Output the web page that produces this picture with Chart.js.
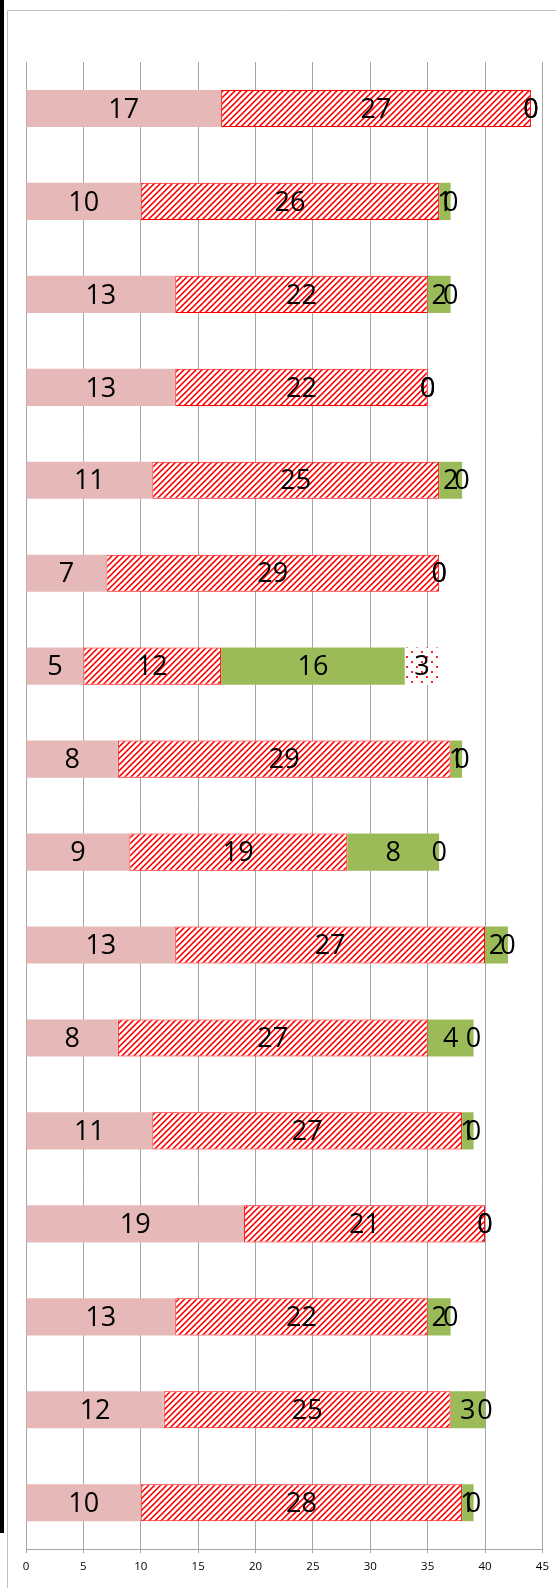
<!DOCTYPE html>
<html>
<head>
<meta charset="utf-8">
<title>Stacked bars</title>
<style>
  html, body { margin: 0; padding: 0; background: #fff; }
  #wrap { width: 556px; height: 1588px; }
</style>
<script src="https://cdn.jsdelivr.net/npm/chart.js@4.4.0/dist/chart.umd.min.js"></script>
</head>
<body>
<div id="wrap"><canvas id="chart" width="556" height="1588"></canvas></div>
<script>
// Chart data
const categories = ['1', '2', '3', '4', '5', '6', '7', '8', '9', '10', '11', '12', '13', '14', '15', '16'];
const pinkValues   = [17, 10, 13, 13, 11, 7, 5, 8, 9, 13, 8, 11, 19, 13, 12, 10];
const hatchValues  = [27, 26, 22, 22, 25, 29, 12, 29, 19, 27, 27, 27, 21, 22, 25, 28];
const greenValues  = [0, 1, 2, 0, 2, 0, 16, 1, 8, 2, 4, 1, 0, 2, 3, 1];
const dottedValues = [0, 0, 0, 0, 0, 0, 3, 0, 0, 0, 0, 0, 0, 0, 0, 0];
const xTickValues  = [0, 5, 10, 15, 20, 25, 30, 35, 40, 45];

// Fill patterns
function makeHatch() {
  const n = 6;
  const c = document.createElement('canvas');
  c.width = n; c.height = n;
  const g = c.getContext('2d');
  g.fillStyle = '#ffffff';
  g.fillRect(0, 0, n, n);
  const shades = ['#ff3a3a', '#ff0000', '#ff9090'];
  for (let x = 0; x < n; x++) {
    for (let y = 0; y < n; y++) {
      const k = (x + y) % n;
      if (k < shades.length) {
        g.fillStyle = shades[k];
        g.fillRect(x, y, 1, 1);
      }
    }
  }
  return g.createPattern(c, 'repeat');
}

function makeDots() {
  const c = document.createElement('canvas');
  c.width = 10; c.height = 10;
  const g = c.getContext('2d');
  g.fillStyle = '#ffffff';
  g.fillRect(0, 0, 10, 10);
  g.fillStyle = '#ff2020';
  g.fillRect(1, 1, 2, 2);
  g.fillRect(6, 6, 2, 2);
  return g.createPattern(c, 'repeat');
}

// Background, left strip and frame
const framePlugin = {
  id: 'frame',
  beforeDraw(chart) {
    const ctx = chart.ctx;
    ctx.save();
    ctx.fillStyle = '#ffffff';
    ctx.fillRect(0, 0, chart.width, chart.height);
    ctx.fillStyle = '#000000';
    ctx.fillRect(0, 0, 4, 1533);
    ctx.strokeStyle = '#bfbfbf';
    ctx.lineWidth = 1;
    ctx.beginPath();
    ctx.moveTo(7.5, chart.height);
    ctx.lineTo(7.5, 10.5);
    ctx.lineTo(chart.width, 10.5);
    ctx.stroke();
    ctx.restore();
  }
};

// Value labels centred in each segment
const labelPlugin = {
  id: 'segmentLabels',
  afterDatasetsDraw(chart) {
    const ctx = chart.ctx;
    ctx.save();
    ctx.font = '27px "Open Sans"';
    ctx.fillStyle = '#000000';
    ctx.textAlign = 'center';
    ctx.textBaseline = 'middle';
    chart.data.datasets.forEach((ds, di) => {
      const meta = chart.getDatasetMeta(di);
      meta.data.forEach((bar, i) => {
        const p = bar.getProps(['x', 'y', 'base'], true);
        ctx.fillText(String(ds.data[i]), (p.x + p.base) / 2, p.y + 1.5);
      });
    });
    ctx.restore();
  }
};

const ctx = document.getElementById('chart');
const gridColor = '#a6a6a6';

new Chart(ctx, {
  type: 'bar',
  data: {
    labels: categories,
    datasets: [{
      data: pinkValues,
      backgroundColor: '#e6b9b8',
      borderWidth: 0
    }, {
      data: hatchValues,
      backgroundColor: makeHatch(),
      borderColor: '#ff0000',
      borderWidth: 1,
      borderSkipped: false
    }, {
      data: greenValues,
      backgroundColor: '#9bbb59',
      borderWidth: 0
    }, {
      data: dottedValues,
      backgroundColor: makeDots(),
      borderWidth: 0
    }]
  },
  options: {
    indexAxis: 'y',
    responsive: false,
    devicePixelRatio: 1,
    animation: false,
    categoryPercentage: 1,
    barPercentage: 0.4,
    layout: {
      padding: { top: 62, left: 26, right: 12.5, bottom: 7 }
    },
    plugins: {
      legend: { display: false },
      tooltip: { enabled: false }
    },
    scales: {
      x: {
        type: 'linear',
        stacked: true,
        min: 0,
        max: 45,
        afterBuildTicks: (scale) => {
          scale.ticks = xTickValues.map(v => ({ value: v }));
        },
        grid: { color: gridColor, lineWidth: 1, tickLength: 4 },
        border: { display: true, color: gridColor },
        ticks: {
          color: '#000000',
          padding: 7,
          font: { family: 'Open Sans', size: 11.5 }
        }
      },
      y: {
        type: 'category',
        stacked: true,
        display: false
      }
    }
  },
  plugins: [framePlugin, labelPlugin]
});
</script>
</body>
</html>
